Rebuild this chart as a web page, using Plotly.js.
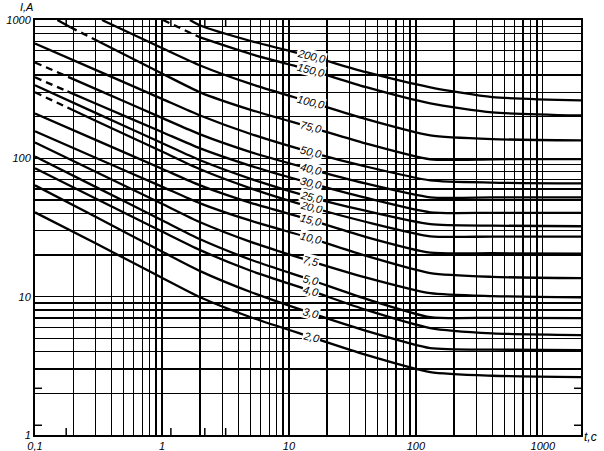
<!DOCTYPE html>
<html><head><meta charset="utf-8">
<script src="https://cdn.plot.ly/plotly-3.0.1.min.js"></script>
<style>html,body{margin:0;padding:0;background:#fff}#chart{width:604px;height:451px}</style>
</head><body><div id="chart"></div>
<script>
// ---- data (t in s, I in A) ----
const ratings = ['2,0','3,0','4,0','5,0','7,5','10,0','15,0','20,0','25,0','30,0','40,0','50,0','75,0','100,0','150,0','200,0'];
const tStd = [0.1, 0.3, 1, 2, 5, 15, 40, 130, 400, 2000];
const I_2   = [40.7, 24.3, 13.7, 9.9, 7.1, 5.1, 3.81, 2.85, 2.68, 2.62];
const I_3   = [63.8, 37.8, 21.2, 15.3, 10.8, 7.6, 5.69, 4.25, 4.14, 4.11];
const I_4   = [84.7, 51.3, 29.6, 21.7, 15.4, 11.0, 8.05, 5.93, 5.43, 5.27];
const I_5   = [103, 62.2, 35.7, 26.0, 18.5, 13.2, 9.68, 7.11, 7.03, 7.0];
const I_7_5 = [130, 80.0, 46.9, 34.5, 24.9, 18.0, 13.8, 10.6, 10.1, 9.9];
const I_10  = [157, 101, 62.4, 47.3, 35.4, 26.4, 19.8, 14.8, 13.9, 13.6];
const I_15  = [211, 136, 84.1, 63.8, 47.7, 35.7, 27.1, 20.8, 20.6, 20.5];
const t_20  = [0.1, 0.18, 0.3, 1, 2, 5, 15, 40, 130, 400, 2000];
const I_20  = [300, 233, 187, 112, 83.3, 60.7, 44.3, 34.8, 27.3, 27.2, 27.2];
const I_25  = [337, 213, 129, 96.8, 71.1, 52.3, 41.8, 33.4, 32.6, 32.3];
const t_30  = [0.1, 0.18, 0.3, 1, 2, 5, 15, 40, 130, 400, 2000];
const I_30  = [385, 305, 249, 155, 118, 88.3, 65.9, 51.9, 40.7, 40.4, 40.3];
const t_40  = [0.1, 0.2, 0.3, 1, 2, 5, 15, 40, 130, 400, 2000];
const I_40  = [493, 374, 318, 196, 149, 111, 83.3, 65.9, 52.3, 52.2, 52.2];
const I_50  = [676, 436, 269, 204, 150, 110.5, 87.5, 69.3, 66.8, 65.9];
const t_75  = [0.15, 0.19, 0.28, 1, 2, 5, 15, 40, 130, 400, 2000];
const I_75  = [1000, 887, 741, 411, 300, 224, 167.5, 128.3, 98.3, 98.5, 98.8];
const t_100 = [0.337, 1, 2, 5, 15, 40, 130, 400, 2000];
const I_100 = [1000, 627, 469, 345, 254, 193, 146.6, 137.7, 134.9];
const t_150 = [1.02, 2, 5, 15, 40, 130, 400, 2000];
const I_150 = [1000, 748, 568, 432, 328, 249.5, 215, 204];
const t_200 = [1.66, 2, 5, 15, 40, 130, 400, 2000];
const I_200 = [1000, 912, 705, 545, 421, 326, 277, 262];
// dashed segments (segment index i joins point i and i+1)
const dash_20 = [0], dash_30 = [0], dash_40 = [0], dash_75 = [1], dash_150 = [0];

// axis labels
const xTickVals = [0.1, 1, 10, 100, 1000];
const xTickText = ['0,1', '1', '10', '100', '1000'];
const yTickVals = [1, 10, 100, 1000];
const yTickText = ['1', '10', '100', '1000'];
const minorX = [0.15, 1.5, 15, 150, 1500];
const minorY = [1.5, 15, 150];
const labelT = 15;

const curves = [
  [tStd, I_2, []], [tStd, I_3, []], [tStd, I_4, []], [tStd, I_5, []],
  [tStd, I_7_5, []], [tStd, I_10, []], [tStd, I_15, []], [t_20, I_20, dash_20],
  [tStd, I_25, []], [t_30, I_30, dash_30], [t_40, I_40, dash_40], [tStd, I_50, []],
  [t_75, I_75, dash_75], [t_100, I_100, []], [t_150, I_150, dash_150], [t_200, I_200, []]
];

// grid values 1..9 x decade
function gridVals(lo, hi) {
  const out = [];
  for (let e = lo; e <= hi; e++) for (let m = 1; m <= 9; m++) out.push(m * Math.pow(10, e));
  return out;
}
const xGrid = gridVals(-1, 3).filter(v => v <= 1000);
const yGrid = gridVals(0, 3).filter(v => v <= 1000);
function gridText(vals, tv, tt) {
  return vals.map(v => { const k = tv.findIndex(u => Math.abs(u - v) / v < 1e-9); return k >= 0 ? tt[k] : ''; });
}

const traces = [];
const annotations = [];
curves.forEach((c, ci) => {
  const [t, I, dashed] = c;
  let start = 0;
  const isD = i => dashed.indexOf(i) >= 0;
  for (let i = 0; i < t.length - 1; i++) {
    const last = (i === t.length - 2) || isD(i + 1) !== isD(i);
    if (last) {
      traces.push({
        x: t.slice(start, i + 2), y: I.slice(start, i + 2), type: 'scatter', mode: 'lines',
        line: {color: '#000', width: 2.3, shape: 'spline', smoothing: 0.6, dash: isD(i) ? '7px,5px' : 'solid'},
        hoverinfo: 'skip', showlegend: false
      });
      start = i + 1;
    }
  }
  const k = t.indexOf(labelT);
  annotations.push({
    x: Math.log10(t[k]), y: Math.log10(I[k]), xref: 'x', yref: 'y', text: ratings[ci],
    showarrow: false, textangle: 14, bgcolor: '#fff', borderpad: 0,
    font: {family: 'Liberation Sans', size: 11, style: 'italic', color: '#000'}
  });
});

// short inward tick marks at the 1.5 positions, on all four sides
const shapes = [];
const tickLine = {color: '#000', width: 1.5};
minorX.forEach(v => {
  shapes.push({type: 'line', xref: 'x', yref: 'paper', ysizemode: 'pixel', yanchor: 0,
    x0: Math.log10(v), x1: Math.log10(v), y0: 0, y1: 7, line: tickLine});
  shapes.push({type: 'line', xref: 'x', yref: 'paper', ysizemode: 'pixel', yanchor: 1,
    x0: Math.log10(v), x1: Math.log10(v), y0: 0, y1: -7, line: tickLine});
});
minorY.forEach(v => {
  shapes.push({type: 'line', yref: 'y', xref: 'paper', xsizemode: 'pixel', xanchor: 0,
    y0: Math.log10(v), y1: Math.log10(v), x0: 0, x1: 7, line: tickLine});
  shapes.push({type: 'line', yref: 'y', xref: 'paper', xsizemode: 'pixel', xanchor: 1,
    y0: Math.log10(v), y1: Math.log10(v), x0: 0, x1: -7, line: tickLine});
});

annotations.push({xref: 'paper', yref: 'paper', x: -0.015, y: 1.031, text: 'I,A', showarrow: false,
  xanchor: 'center', yanchor: 'middle', font: {family: 'Liberation Sans', size: 11, style: 'italic', color: '#000'}});
annotations.push({xref: 'paper', yref: 'paper', x: 1.018, y: -0.004, text: 't,c', showarrow: false,
  xanchor: 'center', yanchor: 'middle', font: {family: 'Liberation Sans', size: 12, style: 'italic', color: '#000'}});

const tickFont = {family: 'Liberation Sans', size: 11, style: 'italic', color: '#000'};
const layout = {
  width: 604, height: 451, margin: {l: 35, r: 23, t: 20, b: 16},
  paper_bgcolor: '#fff', plot_bgcolor: '#fff', showlegend: false,
  xaxis: {
    type: 'log', range: [-1, Math.log10(2000)], tickmode: 'array', tickvals: xGrid,
    ticktext: gridText(xGrid, xTickVals, xTickText), ticks: '',
    showgrid: true, gridcolor: '#000', gridwidth: 1.4, showline: true, linecolor: '#000', linewidth: 2,
    mirror: true, zeroline: false, tickfont: tickFont
  },
  yaxis: {
    type: 'log', range: [0, 3], tickmode: 'array', tickvals: yGrid,
    ticktext: gridText(yGrid, yTickVals, yTickText), ticks: '',
    showgrid: true, gridcolor: '#000', gridwidth: 1.4, showline: true, linecolor: '#000', linewidth: 2,
    mirror: true, zeroline: false, tickfont: tickFont
  },
  shapes: shapes,
  annotations: annotations
};
Plotly.newPlot('chart', traces, layout, {staticPlot: true, displayModeBar: false});
</script></body></html>
